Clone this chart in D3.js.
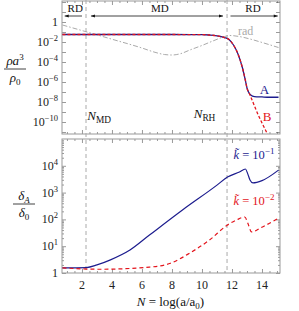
<!DOCTYPE html>
<html>
<head>
<meta charset="utf-8">
<script src="https://cdn.jsdelivr.net/npm/d3@7"></script>
<style>
  body { margin: 0; background: #fff; }
  svg { display: block; font-family: "Liberation Serif", "DejaVu Serif", serif; }
</style>
</head>
<body>
<div id="chart"></div>
<script>
// top panel: rho a^3 / rho0
const topN = [0.7, 2, 4, 6, 8, 10, 10.5, 11, 11.5, 11.8, 12.1, 12.4, 12.7, 12.9, 13.0, 13.1, 13.25, 13.5, 14, 14.5, 15.1];
const seriesA = [5.6e-2, 5.6e-2, 5.6e-2, 5.6e-2, 5.6e-2, 5.4e-2, 5.0e-2, 4.2e-2, 2.8e-2, 1.8e-2, 5e-3, 6.3e-4, 2.5e-5, 1.3e-6, 2.5e-7, 1e-7, 5e-8, 3.5e-8, 3.2e-8, 3e-8, 3e-8];
const bN = [0.7, 2, 4, 6, 8, 10, 10.5, 11, 11.5, 11.8, 12.1, 12.4, 12.7, 12.9, 13.0, 13.2, 13.5, 13.75, 14.0, 14.4];
const seriesB = [5.6e-2, 5.6e-2, 5.6e-2, 5.6e-2, 5.6e-2, 5.4e-2, 5.0e-2, 4.2e-2, 2.8e-2, 1.8e-2, 5e-3, 6.3e-4, 2.5e-5, 1.3e-6, 2.5e-7, 5e-8, 4e-9, 5e-10, 8e-11, 5e-12];
const radN = [0.7, 2, 4, 6, 6.8, 7.5, 8, 8.6, 9.2, 10, 10.8, 11.5, 11.8, 12.5, 13.2, 14, 15.1];
const seriesRad = [5e-1, 1.4e-1, 1.9e-2, 2.5e-3, 1e-3, 5.6e-4, 5e-4, 7e-4, 1.6e-3, 4.5e-3, 1.4e-2, 3.5e-2, 4.5e-2, 3.5e-2, 2e-2, 9e-3, 2.8e-3];

// bottom panel: delta_A / delta_0
const k1N = [0.7, 2.3, 3, 3.9, 5.2, 6.5, 8.7, 11, 11.7, 12.5, 12.9, 13.05, 13.2, 13.4, 14, 15.1];
const seriesK1 = [1.55, 1.6, 2.0, 3.1, 7.2, 26, 224, 1900, 3800, 5900, 7600, 5000, 2950, 2300, 2800, 6900];
const k2N = [0.7, 3.2, 6.5, 7.9, 9.2, 10.5, 11.7, 12.3, 12.85, 13.05, 13.3, 13.9, 15.1];
const seriesK2 = [1.55, 1.38, 1.66, 2.3, 5.6, 17, 62, 95, 123, 74, 34, 48, 112];

const xTicks = [2, 4, 6, 8, 10, 12, 14];
const topYTicks = [-10, -8, -6, -4, -2, 0];
const botYTicks = [0, 1, 2, 3, 4];
const nMD = 2.27, nRH = 11.67;

const W = 299, H = 311;
const left = 62, right = 280;
const top1 = 1, bot1 = 134, top2 = 139, bot2 = 273;
const blue = "#1c1c8e", red = "#e3141c", gray = "#aaaaaa", frame = "#999";

const svg = d3.select("#chart").append("svg").attr("width", W).attr("height", H);

const x = d3.scaleLinear().domain([0.67, 15.2]).range([left, right]);
const y1 = d3.scaleLog().domain([Math.pow(10, -11.2), Math.pow(10, 2.1)]).range([bot1, top1]);
const y2 = d3.scaleLog().domain([1, 1e5]).range([bot2, top2]);

function panel(y, y0, yb, majors, minors, labelFn) {
  const g = svg.append("g");
  const minorX = d3.range(1, 15.1, 0.5).filter(v => !xTicks.includes(v));
  // x ticks, bottom and top, pointing inward
  [[d3.axisBottom, yb, -1], [d3.axisTop, y0, 1]].forEach(([ax, ty, s]) => {
    g.append("g").attr("transform", `translate(0,${ty})`)
      .call(ax(x).tickValues(xTicks).tickFormat(""))
      .call(a => a.selectAll("line").attr("y2", 4 * s));
    g.append("g").attr("transform", `translate(0,${ty})`)
      .call(ax(x).tickValues(minorX).tickFormat(""))
      .call(a => a.selectAll("line").attr("y2", 2 * s));
  });
  // y ticks, left and right
  [[d3.axisLeft, left, 1], [d3.axisRight, right, -1]].forEach(([ax, tx, s]) => {
    g.append("g").attr("transform", `translate(${tx},0)`)
      .call(ax(y).tickValues(majors).tickFormat(""))
      .call(a => a.selectAll("line").attr("x2", 4 * s));
    g.append("g").attr("transform", `translate(${tx},0)`)
      .call(ax(y).tickValues(minors).tickFormat(""))
      .call(a => a.selectAll("line").attr("x2", 2 * s));
  });
  g.selectAll(".domain").remove();
  g.selectAll(".tick line").attr("stroke", "#555").attr("stroke-width", 0.6);
  g.append("rect").attr("x", left).attr("y", y0).attr("width", right - left).attr("height", yb - y0)
    .attr("fill", "none").attr("stroke", frame).attr("stroke-width", 1);
  // y labels
  majors.forEach(v => {
    const e = Math.round(Math.log10(v));
    if (!labelFn(e)) return;
    const t = g.append("text").attr("x", left - 4).attr("y", y(v) + 4)
      .attr("text-anchor", "end").attr("font-size", 12).attr("fill", "#222");
    if (e === 0) t.text("1");
    else {
      t.append("tspan").text("10");
      t.append("tspan").attr("dy", -5).attr("font-size", 8.5).text(e < 0 ? "\u2212" + (-e) : e);
    }
  });
  return g;
}

const topMaj = d3.range(-11, 3).map(e => Math.pow(10, e)).filter(v => v >= y1.domain()[0] && v <= y1.domain()[1]);
panel(y1, top1, bot1, topMaj, [], e => topYTicks.includes(e));
const botMinor = [];
[1, 10, 100, 1000, 10000].forEach(d => { for (let m = 2; m < 10; m++) botMinor.push(d * m); });
panel(y2, top2, bot2, botYTicks.map(e => Math.pow(10, e)), botMinor, e => botYTicks.includes(e));

// x tick labels
xTicks.forEach(v => {
  svg.append("text").attr("x", x(v)).attr("y", bot2 + 16).attr("text-anchor", "middle")
    .attr("font-size", 12).attr("fill", "#222").text(v);
});

// vertical dashed markers
[nMD, nRH].forEach(n => {
  svg.append("line").attr("x1", x(n)).attr("x2", x(n)).attr("y1", 0).attr("y2", bot2)
    .attr("stroke", gray).attr("stroke-width", 1).attr("stroke-dasharray", "4,3");
});

// curves
svg.append("clipPath").attr("id", "c1").append("rect")
  .attr("x", left).attr("y", top1).attr("width", right - left).attr("height", bot1 - top1);
const line1 = (xs) => d3.line().x((d, i) => x(xs[i])).y(d => y1(d)).curve(d3.curveMonotoneX);
const line2 = (xs) => d3.line().x((d, i) => x(xs[i])).y(d => y2(d)).curve(d3.curveMonotoneX);

const gTop = svg.append("g").attr("clip-path", "url(#c1)");
gTop.append("path").attr("d", line1(radN)(seriesRad)).attr("fill", "none")
  .attr("stroke", gray).attr("stroke-width", 1).attr("stroke-dasharray", "5,2,1.5,2");
gTop.append("path").attr("d", line1(topN)(seriesA)).attr("fill", "none")
  .attr("stroke", blue).attr("stroke-width", 1.3);
gTop.append("path").attr("d", line1(bN)(seriesB)).attr("fill", "none")
  .attr("stroke", red).attr("stroke-width", 1.3).attr("stroke-dasharray", "3,2");

svg.append("path").attr("d", line2(k1N)(seriesK1)).attr("fill", "none")
  .attr("stroke", blue).attr("stroke-width", 1.2);
svg.append("path").attr("d", line2(k2N)(seriesK2)).attr("fill", "none")
  .attr("stroke", red).attr("stroke-width", 1.2).attr("stroke-dasharray", "4,3");

// era arrows
const defs = svg.append("defs");
defs.append("marker").attr("id", "ah").attr("viewBox", "0 0 10 10").attr("refX", 10).attr("refY", 5)
  .attr("markerWidth", 7).attr("markerHeight", 5).attr("orient", "auto-start-reverse")
  .append("path").attr("d", "M0,1 L10,5 L0,9 Z").attr("fill", "#111");
function arrow(x1, x2, yy, heads) {
  const l = svg.append("line").attr("x1", x(x1)).attr("x2", x(x2)).attr("y1", yy).attr("y2", yy)
    .attr("stroke", "#111").attr("stroke-width", 0.8);
  if (heads.includes("start")) l.attr("marker-start", "url(#ah)");
  if (heads.includes("end")) l.attr("marker-end", "url(#ah)");
}
arrow(0.85, 2.0, 16, ["start"]);
arrow(2.6, 11.4, 16, ["start", "end"]);
arrow(11.9, 15.05, 16, ["end"]);
const era = (t, n) => svg.append("text").attr("x", x(n)).attr("y", 12).attr("text-anchor", "middle")
  .attr("font-size", 11).attr("fill", "#111").text(t);
era("RD", 1.55); era("MD", 7.2); era("RD", 13.4);

// annotations
function subLabel(xx, yy, main, sub, color, size) {
  const t = svg.append("text").attr("x", xx).attr("y", yy).attr("font-size", size).attr("fill", color);
  t.append("tspan").attr("font-style", "italic").text(main);
  t.append("tspan").attr("dy", 3).attr("font-size", size * 0.72).text(sub);
  return t;
}
subLabel(x(2.35), 120, "N", "MD", "#111", 13);
subLabel(x(9.45), 118, "N", "RH", "#111", 13);
svg.append("text").attr("x", x(13.85)).attr("y", 94).attr("font-size", 13).attr("fill", blue).text("A");
svg.append("text").attr("x", x(14.05)).attr("y", 121).attr("font-size", 13).attr("fill", red).text("B");
svg.append("text").attr("x", x(12.4)).attr("y", 35).attr("font-size", 12).attr("fill", gray).text("rad");

function kLabel(yy, e, color) {
  const t = svg.append("text").attr("x", x(12.1)).attr("y", yy).attr("font-size", 12.5).attr("fill", color);
  t.append("tspan").attr("font-style", "italic").text("k\u0303");
  t.append("tspan").text(" = 10");
  t.append("tspan").attr("dy", -5).attr("font-size", 9).text("\u2212" + e);
}
kLabel(159, 1, blue);
kLabel(205, 2, red);

// y axis titles as fractions
function frac(cx, cy, numFn, denFn) {
  const n = svg.append("text").attr("x", cx).attr("y", cy - 4).attr("text-anchor", "middle").attr("font-size", 13).attr("fill", "#111");
  numFn(n);
  svg.append("line").attr("x1", cx - 11).attr("x2", cx + 11).attr("y1", cy).attr("y2", cy).attr("stroke", "#111").attr("stroke-width", 0.8);
  const d = svg.append("text").attr("x", cx).attr("y", cy + 13).attr("text-anchor", "middle").attr("font-size", 13).attr("fill", "#111");
  denFn(d);
}
frac(15, 69, t => {
  t.append("tspan").attr("font-style", "italic").text("\u03c1a");
  t.append("tspan").attr("dy", -5).attr("font-size", 9).text("3");
}, t => {
  t.append("tspan").attr("font-style", "italic").text("\u03c1");
  t.append("tspan").attr("dy", 3).attr("font-size", 9).text("0");
});
frac(24, 204, t => {
  t.append("tspan").attr("font-style", "italic").text("\u03b4");
  t.append("tspan").attr("dy", 3).attr("font-size", 9).attr("font-style", "italic").text("A");
}, t => {
  t.append("tspan").attr("font-style", "italic").text("\u03b4");
  t.append("tspan").attr("dy", 3).attr("font-size", 9).text("0");
});

// x axis title
const xt = svg.append("text").attr("x", x(7.9)).attr("y", 306).attr("text-anchor", "middle").attr("font-size", 13).attr("fill", "#111");
xt.append("tspan").attr("font-style", "italic").text("N");
xt.append("tspan").text(" = log(a/a");
xt.append("tspan").attr("dy", 3).attr("font-size", 9).text("0");
xt.append("tspan").attr("dy", -3).text(")");
</script>
</body>
</html>
